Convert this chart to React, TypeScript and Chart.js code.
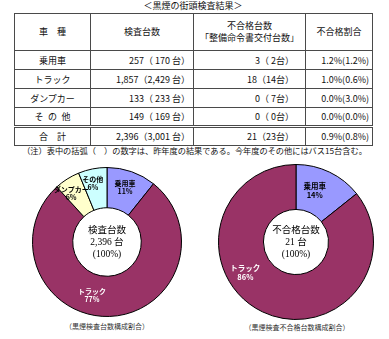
import React, { useEffect, useRef } from "react";
import { Chart, registerables } from "chart.js";

Chart.register(...registerables);

const title = "＜黒煙の街頭検査結果＞";
const headers = ["車　種", "検査台数", "不合格台数\n「整備命令書交付台数」", "不合格割合"];
const categories = ["乗用車", "トラック", "ダンプカー", "そ\u2002の\u2002他"];
const chartCategories = ["乗用車", "トラック", "ダンプカー", "その他"];
const inspected = [257, 1857, 133, 149];
const inspectedPrev = [170, 2429, 233, 169];
const failed = [3, 18, 0, 0];
const failedPrev = [2, 14, 7, 0];
const inspectedShare = [11, 77, 6, 6];
const failedShare = [14, 86, 0, 0];
const totalLabel = "合　計";
const note = "（注）表中の括弧（　）の数字は、昨年度の結果である。今年度のその他にはバス15台含む。";
const sliceColors = ["#9999FF", "#993366", "#FFFFCC", "#CCFFFF"];
const labelColors = ["#000000", "#FFFFFF", "#000000", "#000000"];
const leftCenterText = ["検査台数", "2,396 台", "(100%)"];
const rightCenterText = ["不合格台数", "21 台", "(100%)"];
const leftCaption = "（黒煙検査台数構成割合）";
const rightCaption = "（黒煙検査不合格台数構成割合）";

const sum = (a: number[]) => a.reduce((s, v) => s + v, 0);
const fmt = (n: number) => n.toLocaleString("en-US");
const pct = (a: number, b: number) => (b === 0 ? 0 : (a / b) * 100).toFixed(1) + "%";

const labelPlugin = {
  id: "sliceLabels",
  afterDatasetsDraw(chart: any, _args: any, opts: any) {
    const ctx = chart.ctx;
    const meta = chart.getDatasetMeta(0);
    ctx.save();
    ctx.textAlign = "center";
    ctx.textBaseline = "middle";
    meta.data.forEach((arc: any, i: number) => {
      const p = arc.getProps(["x", "y", "startAngle", "endAngle", "innerRadius", "outerRadius"], true);
      const mid = (p.startAngle + p.endAngle) / 2;
      const r = p.innerRadius + (p.outerRadius - p.innerRadius) * opts.radial;
      const off = (opts.offsets && opts.offsets[i]) || [0, 0];
      const x = p.x + Math.cos(mid) * r + off[0];
      const y = p.y + Math.sin(mid) * r + off[1];
      ctx.fillStyle = opts.colors[i];
      ctx.font = `bold ${opts.size}px "Noto Sans CJK JP", sans-serif`;
      ctx.fillText(chart.data.labels[i], x, y - opts.gap / 2);
      ctx.fillText(opts.shares[i] + "%", x, y + opts.gap / 2);
    });
    ctx.restore();
  },
};

const centerPlugin = {
  id: "centerText",
  afterDatasetsDraw(chart: any, _args: any, opts: any) {
    const ctx = chart.ctx;
    const arc = chart.getDatasetMeta(0).data[0];
    if (!arc) return;
    ctx.save();
    ctx.textAlign = "center";
    ctx.textBaseline = "middle";
    ctx.fillStyle = "#000";
    ctx.font = `${opts.size}px "Liberation Serif", "Noto Sans CJK JP", serif`;
    const lines: string[] = opts.lines;
    lines.forEach((t, i) => {
      ctx.fillText(t, arc.x, arc.y + (i - (lines.length - 1) / 2) * opts.lineHeight);
    });
    ctx.restore();
  },
};

function Donut(props: {
  values: number[];
  shares: number[];
  labels: string[];
  colors: string[];
  txtColors: string[];
  cutout: string;
  size: number;
  left: number;
  top: number;
  center: string[];
  radial: number;
  offsets: number[][];
  labelSize: number;
  gap: number;
}) {
  const ref = useRef<HTMLCanvasElement>(null);
  useEffect(() => {
    const chart = new Chart(ref.current as HTMLCanvasElement, {
      type: "doughnut",
      data: {
        labels: props.labels,
        datasets: [
          {
            data: props.values,
            backgroundColor: props.colors,
            borderColor: "#000",
            borderWidth: 1,
          },
        ],
      },
      options: {
        responsive: false,
        animation: false,
        cutout: props.cutout,
        layout: { padding: 1 },
        plugins: {
          legend: { display: false },
          tooltip: { enabled: false },
          sliceLabels: {
            radial: props.radial,
            offsets: props.offsets,
            colors: props.txtColors,
            shares: props.shares,
            size: props.labelSize,
            gap: props.gap,
          },
          centerText: { lines: props.center, size: 9.5, lineHeight: 12 },
        } as any,
      },
      plugins: [labelPlugin, centerPlugin],
    });
    return () => chart.destroy();
  }, []);
  return (
    <canvas
      ref={ref}
      width={props.size}
      height={props.size}
      style={{ position: "absolute", left: props.left, top: props.top, width: props.size, height: props.size }}
    />
  );
}

export default function App() {
  const totIns = sum(inspected);
  const totInsPrev = sum(inspectedPrev);
  const totFail = sum(failed);
  const totFailPrev = sum(failedPrev);
  const rows = categories.map((c, i) => ({
    name: c,
    a: `${fmt(inspected[i])}（${String(fmt(inspectedPrev[i])).padStart(4, " ")} 台）`,
    b: `${failed[i]}（${String(failedPrev[i]).padStart(2, " ")}台）`,
    c: `${pct(failed[i], inspected[i])}(${pct(failedPrev[i], inspectedPrev[i])})`,
  }));
  const totalRow = {
    name: totalLabel,
    a: `${fmt(totIns)}（${fmt(totInsPrev)} 台）`,
    b: `${totFail}（${totFailPrev}台）`,
    c: `${pct(totFail, totIns)}(${pct(totFailPrev, totInsPrev)})`,
  };

  const line = "1px solid #4a4a4a";
  const font = '"Noto Sans CJK JP", "Noto Sans", sans-serif';
  const cellBase: React.CSSProperties = {
    borderLeft: line,
    borderRight: line,
    borderTop: line,
    borderBottom: line,
    padding: 0,
    fontSize: 9,
    lineHeight: "11px",
    whiteSpace: "pre",
    color: "#111",
  };
  const rowH = 19;

  const renderRow = (r: any, isTotal: boolean, key: number) => {
    const extra: React.CSSProperties = isTotal ? { borderTop: "3px double #4a4a4a" } : {};
    return (
      <tr key={key} style={{ height: rowH }}>
        <td style={{ ...cellBase, ...extra, textAlign: "center" }}>{r.name}</td>
        <td style={{ ...cellBase, ...extra, textAlign: "right", paddingRight: 3 }}>{r.a}</td>
        <td style={{ ...cellBase, ...extra, textAlign: "right", paddingRight: 11 }}>{r.b}</td>
        <td style={{ ...cellBase, ...extra, textAlign: "right", paddingRight: 3 }}>{r.c}</td>
      </tr>
    );
  };

  const rightIdx = failed.map((v, i) => i).filter((i) => failed[i] > 0);

  return (
    <div style={{ position: "absolute", left: 0, top: 0, width: 389, height: 339, background: "#fff", fontFamily: font }}>
      <div style={{ position: "absolute", left: 14, top: 0, width: 358, textAlign: "center", fontSize: 9, lineHeight: "11px", color: "#111" }}>
        {title}
      </div>
      <table
        style={{
          position: "absolute",
          left: 14,
          top: 13,
          width: 358,
          borderCollapse: "collapse",
          tableLayout: "fixed",
          fontFamily: font,
        }}
      >
        <colgroup>
          <col style={{ width: 76 }} />
          <col style={{ width: 103 }} />
          <col style={{ width: 112 }} />
          <col style={{ width: 67 }} />
        </colgroup>
        <tbody>
          <tr style={{ height: 37 }}>
            {headers.map((h, i) => (
              <td key={i} style={{ ...cellBase, textAlign: "center", lineHeight: "12px" }}>
                {h}
              </td>
            ))}
          </tr>
          {rows.map((r, i) => renderRow(r, false, i))}
          {renderRow(totalRow, true, 99)}
        </tbody>
      </table>
      <div style={{ position: "absolute", left: 0, top: 145, width: 389, textAlign: "center", fontSize: 8.2, lineHeight: "10px", color: "#111", whiteSpace: "nowrap" }}>
        {note}
      </div>
      <Donut
        values={inspected}
        shares={inspectedShare}
        labels={chartCategories}
        colors={sliceColors}
        txtColors={labelColors}
        cutout="46%"
        size={152}
        left={31}
        top={166}
        center={leftCenterText}
        radial={0.58}
        offsets={[[-1, 0], [-17, -4], [-5, 0], [-3, -2]]}
        labelSize={7}
        gap={8}
      />
      <Donut
        values={rightIdx.map((i) => failed[i])}
        shares={rightIdx.map((i) => failedShare[i])}
        labels={rightIdx.map((i) => chartCategories[i])}
        colors={rightIdx.map((i) => sliceColors[i])}
        txtColors={rightIdx.map((i) => labelColors[i])}
        cutout="42%"
        size={158}
        left={217}
        top={163}
        center={rightCenterText}
        radial={0.49}
        offsets={[[-5, -2], [-27, -19]]}
        labelSize={7.5}
        gap={9}
      />
      <div style={{ position: "absolute", left: 7, width: 200, top: 322, textAlign: "center", fontSize: 7, lineHeight: "9px", color: "#333" }}>
        {leftCaption}
      </div>
      <div style={{ position: "absolute", left: 197, width: 200, top: 323, textAlign: "center", fontSize: 7, lineHeight: "9px", color: "#333" }}>
        {rightCaption}
      </div>
    </div>
  );
}
